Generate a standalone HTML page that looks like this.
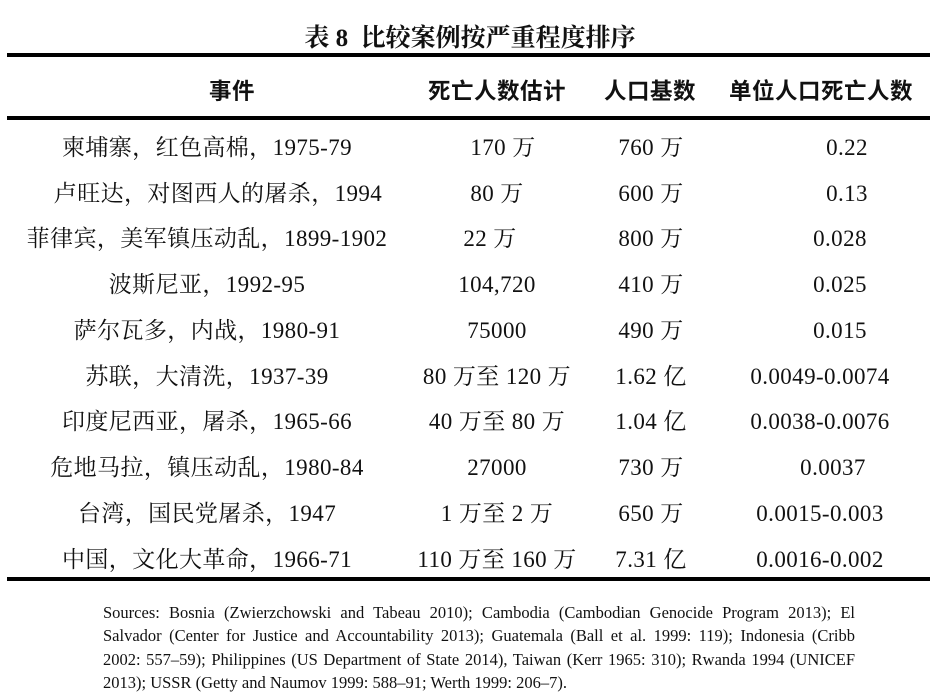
<!DOCTYPE html>
<html><head><meta charset="utf-8"><style>
body{margin:0;background:#fff;width:940px;height:700px;position:relative;overflow:hidden;font-family:"Liberation Serif","Noto Serif CJK SC","Noto Sans CJK SC",serif;color:#111}
.t{position:absolute;left:0;width:940px;text-align:center;top:18px;font-size:25px;font-weight:bold}
.r{position:absolute;left:7px;width:923px;background:#000}
.c{position:absolute;white-space:nowrap;font-size:23px;letter-spacing:0.4px;transform:translateX(-50%);line-height:26px}
.h{font-weight:bold;font-family:"Noto Sans CJK SC","Liberation Sans",sans-serif;font-size:22.5px;letter-spacing:0.5px}
.src{position:absolute;left:103px;width:752px;top:601px;font-size:16.5px;line-height:23.3px}
.src div{text-align:justify;text-align-last:justify;white-space:nowrap}
.src div.l{text-align-last:left}
</style></head><body>
<div class="t">表 8&nbsp; 比较案例按严重程度排序</div>
<div class="r" style="top:53px;height:4px"></div>
<div class="r" style="top:116px;height:4px"></div>
<div class="r" style="top:577px;height:4px"></div>
<div class="c h" style="left:232px;top:77px">事件</div>
<div class="c h" style="left:497px;top:77px">死亡人数估计</div>
<div class="c h" style="left:650px;top:77px">人口基数</div>
<div class="c h" style="left:821px;top:77px">单位人口死亡人数</div>

<div class="c" style="left:207px;top:135px">柬埔寨，红色高棉，1975-79</div>
<div class="c" style="left:503px;top:135px">170 万</div>
<div class="c" style="left:651px;top:135px">760 万</div>
<div class="c" style="left:847px;top:135px">0.22</div>

<div class="c" style="left:218px;top:181px">卢旺达，对图西人的屠杀，1994</div>
<div class="c" style="left:497px;top:181px">80 万</div>
<div class="c" style="left:651px;top:181px">600 万</div>
<div class="c" style="left:847px;top:181px">0.13</div>

<div class="c" style="left:207px;top:226px">菲律宾，美军镇压动乱，1899-1902</div>
<div class="c" style="left:490px;top:226px">22 万</div>
<div class="c" style="left:651px;top:226px">800 万</div>
<div class="c" style="left:840px;top:226px">0.028</div>

<div class="c" style="left:207px;top:272px">波斯尼亚，1992-95</div>
<div class="c" style="left:497px;top:272px">104,720</div>
<div class="c" style="left:651px;top:272px">410 万</div>
<div class="c" style="left:840px;top:272px">0.025</div>

<div class="c" style="left:207px;top:318px">萨尔瓦多，内战，1980-91</div>
<div class="c" style="left:497px;top:318px">75000</div>
<div class="c" style="left:651px;top:318px">490 万</div>
<div class="c" style="left:840px;top:318px">0.015</div>

<div class="c" style="left:207px;top:364px">苏联，大清洗，1937-39</div>
<div class="c" style="left:497px;top:364px">80 万至 120 万</div>
<div class="c" style="left:651px;top:364px">1.62 亿</div>
<div class="c" style="left:820px;top:364px">0.0049-0.0074</div>

<div class="c" style="left:207px;top:409px">印度尼西亚，屠杀，1965-66</div>
<div class="c" style="left:497px;top:409px">40 万至 80 万</div>
<div class="c" style="left:651px;top:409px">1.04 亿</div>
<div class="c" style="left:820px;top:409px">0.0038-0.0076</div>

<div class="c" style="left:207px;top:455px">危地马拉，镇压动乱，1980-84</div>
<div class="c" style="left:497px;top:455px">27000</div>
<div class="c" style="left:651px;top:455px">730 万</div>
<div class="c" style="left:833px;top:455px">0.0037</div>

<div class="c" style="left:207px;top:501px">台湾，国民党屠杀，1947</div>
<div class="c" style="left:497px;top:501px">1 万至 2 万</div>
<div class="c" style="left:651px;top:501px">650 万</div>
<div class="c" style="left:820px;top:501px">0.0015-0.003</div>

<div class="c" style="left:207px;top:547px">中国，文化大革命，1966-71</div>
<div class="c" style="left:497px;top:547px">110 万至 160 万</div>
<div class="c" style="left:651px;top:547px">7.31 亿</div>
<div class="c" style="left:820px;top:547px">0.0016-0.002</div>

<div class="src">
<div>Sources: Bosnia (Zwierzchowski and Tabeau 2010); Cambodia (Cambodian Genocide Program 2013); El</div>
<div>Salvador (Center for Justice and Accountability 2013); Guatemala (Ball et al. 1999: 119); Indonesia (Cribb</div>
<div>2002: 557–59); Philippines (US Department of State 2014), Taiwan (Kerr 1965: 310); Rwanda 1994 (UNICEF</div>
<div class="l">2013); USSR (Getty and Naumov 1999: 588–91; Werth 1999: 206–7).</div>
</div>
</body></html>
